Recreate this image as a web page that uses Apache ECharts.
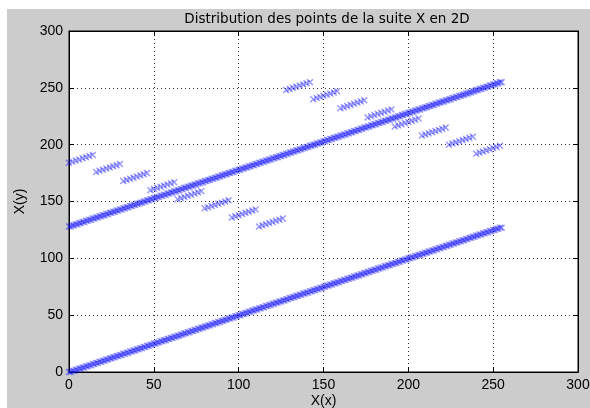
<!DOCTYPE html>
<html>
<head>
<meta charset="utf-8">
<script src="https://cdn.jsdelivr.net/npm/echarts@6/dist/echarts.min.js"></script>
<style>
  html, body { margin: 0; padding: 0; background: #fff; }
  #wrap { position: relative; width: 590px; height: 408px; background: #fff; }
  #panel { position: absolute; left: 7px; top: 9px; right: 0; bottom: 0; background: #cccccc; }
  #chart { position: absolute; left: 0; top: 0; width: 590px; height: 408px; }
</style>
</head>
<body>
<div id="wrap">
  <div id="panel"></div>
  <div id="chart"></div>
</div>
<script>
// Successive terms of the sequence X: horizontal value X(x), vertical value X(y)
const xAll = [
  0,1,2,3,4,5,6,7,8,9,10,11,12,13,14,15,
  16,17,18,19,20,21,22,23,24,25,26,27,28,29,30,31,
  32,33,34,35,36,37,38,39,40,41,42,43,44,45,46,47,
  48,49,50,51,52,53,54,55,56,57,58,59,60,61,62,63,
  64,65,66,67,68,69,70,71,72,73,74,75,76,77,78,79,
  80,81,82,83,84,85,86,87,88,89,90,91,92,93,94,95,
  96,97,98,99,100,101,102,103,104,105,106,107,108,109,110,111,
  112,113,114,115,116,117,118,119,120,121,122,123,124,125,126,127,
  128,129,130,131,132,133,134,135,136,137,138,139,140,141,142,143,
  144,145,146,147,148,149,150,151,152,153,154,155,156,157,158,159,
  160,161,162,163,164,165,166,167,168,169,170,171,172,173,174,175,
  176,177,178,179,180,181,182,183,184,185,186,187,188,189,190,191,
  192,193,194,195,196,197,198,199,200,201,202,203,204,205,206,207,
  208,209,210,211,212,213,214,215,216,217,218,219,220,221,222,223,
  224,225,226,227,228,229,230,231,232,233,234,235,236,237,238,239,
  240,241,242,243,244,245,246,247,248,249,250,251,252,253,254,255
];
const yLower = [
  0,0,1,1,2,2,3,3,4,4,5,5,6,6,7,7,
  8,8,9,9,10,10,11,11,12,12,13,13,14,14,15,15,
  16,16,17,17,18,18,19,19,20,20,21,21,22,22,23,23,
  24,24,25,25,26,26,27,27,28,28,29,29,30,30,31,31,
  32,32,33,33,34,34,35,35,36,36,37,37,38,38,39,39,
  40,40,41,41,42,42,43,43,44,44,45,45,46,46,47,47,
  48,48,49,49,50,50,51,51,52,52,53,53,54,54,55,55,
  56,56,57,57,58,58,59,59,60,60,61,61,62,62,63,63,
  64,64,65,65,66,66,67,67,68,68,69,69,70,70,71,71,
  72,72,73,73,74,74,75,75,76,76,77,77,78,78,79,79,
  80,80,81,81,82,82,83,83,84,84,85,85,86,86,87,87,
  88,88,89,89,90,90,91,91,92,92,93,93,94,94,95,95,
  96,96,97,97,98,98,99,99,100,100,101,101,102,102,103,103,
  104,104,105,105,106,106,107,107,108,108,109,109,110,110,111,111,
  112,112,113,113,114,114,115,115,116,116,117,117,118,118,119,119,
  120,120,121,121,122,122,123,123,124,124,125,125,126,126,127,127
];
const yUpper = [
  128,128,129,129,130,130,131,131,132,132,133,133,134,134,135,135,
  136,136,137,137,138,138,139,139,140,140,141,141,142,142,143,143,
  144,144,145,145,146,146,147,147,148,148,149,149,150,150,151,151,
  152,152,153,153,154,154,155,155,156,156,157,157,158,158,159,159,
  160,160,161,161,162,162,163,163,164,164,165,165,166,166,167,167,
  168,168,169,169,170,170,171,171,172,172,173,173,174,174,175,175,
  176,176,177,177,178,178,179,179,180,180,181,181,182,182,183,183,
  184,184,185,185,186,186,187,187,188,188,189,189,190,190,191,191,
  192,192,193,193,194,194,195,195,196,196,197,197,198,198,199,199,
  200,200,201,201,202,202,203,203,204,204,205,205,206,206,207,207,
  208,208,209,209,210,210,211,211,212,212,213,213,214,214,215,215,
  216,216,217,217,218,218,219,219,220,220,221,221,222,222,223,223,
  224,224,225,225,226,226,227,227,228,228,229,229,230,230,231,231,
  232,232,233,233,234,234,235,235,236,236,237,237,238,238,239,239,
  240,240,241,241,242,242,243,243,244,244,245,245,246,246,247,247,
  248,248,249,249,250,250,251,251,252,252,253,253,254,254,255,255
];
const xStep = [
  0,2,4,6,8,10,12,14,
  16,18,20,22,24,26,28,30,
  32,34,36,38,40,42,44,46,
  48,50,52,54,56,58,60,62,
  64,66,68,70,72,74,76,78,
  80,82,84,86,88,90,92,94,
  96,98,100,102,104,106,108,110,
  112,114,116,118,120,122,124,126,
  128,130,132,134,136,138,140,142,
  144,146,148,150,152,154,156,158,
  160,162,164,166,168,170,172,174,
  176,178,180,182,184,186,188,190,
  192,194,196,198,200,202,204,206,
  208,210,212,214,216,218,220,222,
  224,226,228,230,232,234,236,238,
  240,242,244,246,248,250,252,254
];
const yStep = [
  184,185,186,187,188,189,190,191,
  176,177,178,179,180,181,182,183,
  168,169,170,171,172,173,174,175,
  160,161,162,163,164,165,166,167,
  152,153,154,155,156,157,158,159,
  144,145,146,147,148,149,150,151,
  136,137,138,139,140,141,142,143,
  128,129,130,131,132,133,134,135,
  248,249,250,251,252,253,254,255,
  240,241,242,243,244,245,246,247,
  232,233,234,235,236,237,238,239,
  224,225,226,227,228,229,230,231,
  216,217,218,219,220,221,222,223,
  208,209,210,211,212,213,214,215,
  200,201,202,203,204,205,206,207,
  192,193,194,195,196,197,198,199
];
const tickValues = [0, 50, 100, 150, 200, 250, 300];

const points = [];
xAll.forEach((x, i) => { points.push([x, yLower[i]]); });
xAll.forEach((x, i) => { points.push([x, yUpper[i]]); });
xStep.forEach((x, i) => { points.push([x, yStep[i]]); });

const FONT = 'Liberation Sans, Arial, sans-serif';
const crossMark = 'path://M0,1.5L1.5,0L5,3.5L8.5,0L10,1.5L6.5,5L10,8.5L8.5,10L5,6.5L1.5,10L0,8.5L3.5,5Z';

function mainAxis(name, gap, rot) {
  return {
    type: 'value', min: tickValues[0], max: tickValues[tickValues.length - 1], interval: 50,
    name: name, nameLocation: 'middle', nameGap: gap, nameRotate: rot, nameMoveOverlap: false,
    nameTextStyle: { color: '#000', fontSize: 14, fontFamily: FONT },
    axisLine: { show: true, onZero: false, lineStyle: { color: '#000', width: 1 } },
    axisTick: { show: true, inside: true, length: 5, lineStyle: { color: '#000' } },
    axisLabel: { color: '#000', fontSize: 14, fontFamily: FONT, margin: 6 },
    splitLine: { show: true, lineStyle: { color: '#333', width: 1, type: [1, 3] } }
  };
}
function mirrorAxis(pos) {
  return {
    type: 'value', position: pos, min: 0, max: 300, interval: 50,
    axisLine: { show: true, onZero: false, lineStyle: { color: '#000', width: 1 } },
    axisTick: { show: true, inside: true, length: 5, lineStyle: { color: '#000' } },
    axisLabel: { show: false }, splitLine: { show: false }
  };
}

const chart = echarts.init(document.getElementById('chart'), null, { renderer: 'canvas' });
chart.setOption({
  animation: false,
  backgroundColor: 'transparent',
  title: {
    text: 'Distribution des points de la suite X en 2D',
    left: 322, top: 7, textAlign: 'center',
    textStyle: { color: '#000', fontSize: 13.5, fontWeight: 'normal', fontFamily: 'DejaVu Sans, sans-serif' }
  },
  grid: {
    left: 69, top: 31, right: 12, bottom: 36,
    containLabel: false, outerBoundsMode: 'none',
    show: true, backgroundColor: '#fff', borderColor: '#000', borderWidth: 1
  },
  xAxis: [mainAxis('X(x)', 22, 0), mirrorAxis('top')],
  yAxis: [mainAxis('X(y)', 42, 90), mirrorAxis('right')],
  series: [{
    type: 'scatter',
    data: points,
    symbol: crossMark,
    symbolSize: 7,
    large: false,
    itemStyle: { color: 'rgba(0,0,255,0.5)' },
    emphasis: { disabled: true },
    silent: true
  }]
});
</script>
</body>
</html>
